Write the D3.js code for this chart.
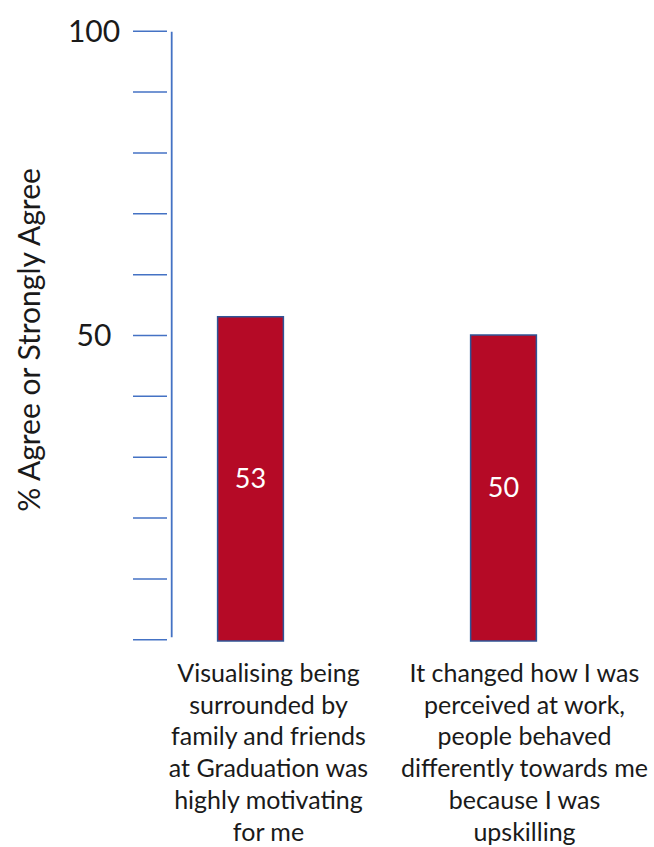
<!DOCTYPE html>
<html>
<head>
<meta charset="utf-8">
<script src="https://cdn.jsdelivr.net/npm/d3@7"></script>
<style>
  html, body { margin: 0; padding: 0; background: #fff; }
  svg { display: block; }
  text { font-family: Lato, "Open Sans", sans-serif; }
</style>
</head>
<body>
<svg id="chart" width="654" height="847"></svg>
<script>
// Survey statements and share agreeing (%)
const categories = [
  ["Visualising being", "surrounded by", "family and friends", "at Graduation was", "highly motivating", "for me"],
  ["It changed how I was", "perceived at work,", "people behaved", "differently towards me", "because I was", "upskilling"]
];
const values = [53, 50];
const tickValues = [0, 10, 20, 30, 40, 50, 60, 70, 80, 90, 100];
const labelledTicks = [50, 100];
const yTitle = "% Agree or Strongly Agree";

const svg = d3.select("#chart");
const axisBlue = "#4472c4";
const barFill = "#b50a26";
const barStroke = "#2f5597";

const y = d3.scaleLinear().domain([0, 100]).range([639.3, 30.7]);
const x = d3.scaleBand().domain(d3.range(values.length)).range([124, 630]).paddingInner(0.74).paddingOuter(0.37);

// tick marks (separate from the vertical axis line)
const tickAxis = d3.axisLeft(y).tickValues(tickValues).tickSizeInner(34).tickSizeOuter(0).tickFormat("");
const gTicks = svg.append("g").attr("transform", "translate(167,0)").call(tickAxis);
gTicks.select(".domain").remove();
gTicks.selectAll(".tick line").attr("stroke", axisBlue).attr("stroke-width", 1.5);

// vertical axis line
svg.append("line")
  .attr("x1", 171.7).attr("x2", 171.7)
  .attr("y1", y(100) + 1).attr("y2", y(0) - 2)
  .attr("stroke", axisBlue).attr("stroke-width", 1.8);

// tick labels
svg.selectAll("text.ytick").data(labelledTicks).enter().append("text")
  .attr("class", "ytick")
  .attr("x", 94).attr("y", d => y(d))
  .attr("dy", "0.36em")
  .attr("text-anchor", "middle")
  .attr("font-size", 30)
  .attr("fill", "#1a1a1a")
  .text(d => d);

// axis title
svg.append("text")
  .attr("transform", "translate(40,340) rotate(-90)")
  .attr("text-anchor", "middle")
  .attr("font-size", 30)
  .attr("fill", "#1a1a1a")
  .text(yTitle);

// bars
svg.selectAll("rect.bar").data(values).enter().append("rect")
  .attr("class", "bar")
  .attr("x", (d, i) => x(i))
  .attr("width", x.bandwidth())
  .attr("y", d => y(d))
  .attr("height", d => y(0) + 1.7 - y(d))
  .attr("fill", barFill)
  .attr("stroke", barStroke)
  .attr("stroke-width", 1.5);

// value labels inside bars
svg.selectAll("text.val").data(values).enter().append("text")
  .attr("class", "val")
  .attr("x", (d, i) => x(i) + x.bandwidth() / 2)
  .attr("y", d => (y(d) + y(0)) / 2)
  .attr("dy", "0.36em")
  .attr("text-anchor", "middle")
  .attr("font-size", 27)
  .attr("fill", "#ffffff")
  .text(d => d);

// category labels
const catG = svg.selectAll("text.cat").data(categories).enter().append("text")
  .attr("class", "cat")
  .attr("x", (d, i) => x(i) + x.bandwidth() / 2 + 18 + i * 3)
  .attr("y", 682)
  .attr("text-anchor", "middle")
  .attr("font-size", 25)
  .attr("fill", "#1a1a1a");
catG.selectAll("tspan").data(d => d).enter().append("tspan")
  .attr("x", function () { return d3.select(this.parentNode).attr("x"); })
  .attr("dy", (d, i) => i === 0 ? 0 : 31.7)
  .text(d => d);
</script>
</body>
</html>
